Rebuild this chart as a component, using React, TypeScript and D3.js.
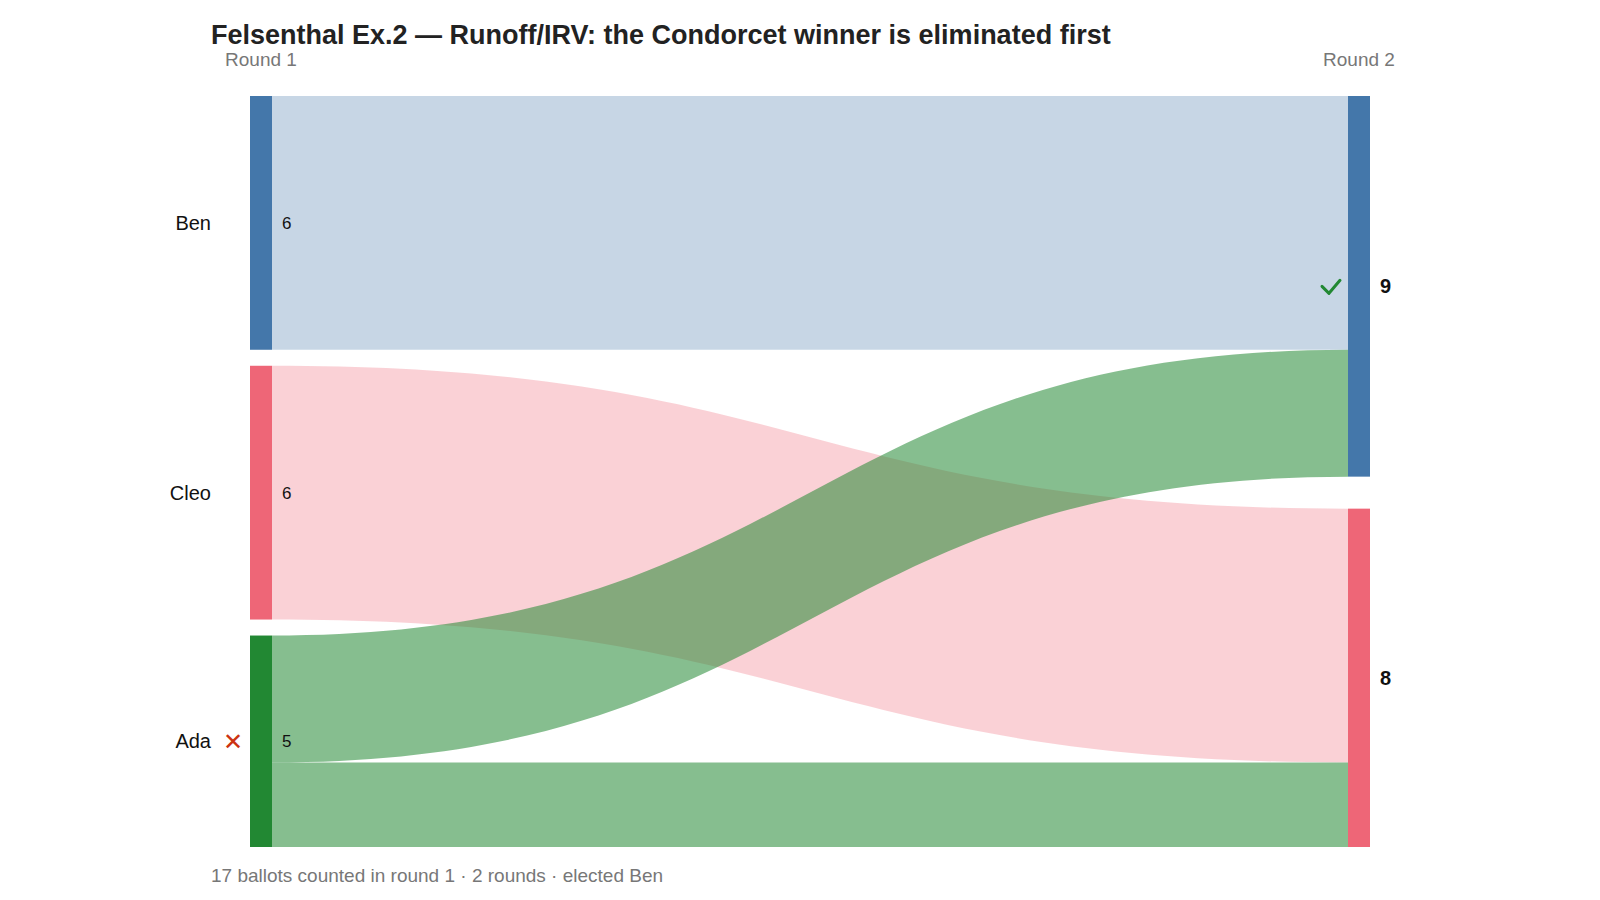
import React from "react";
import * as d3 from "d3";

// Round labels and candidates
const rounds = ["Round 1", "Round 2"];
const round1Candidates = ["Ben", "Cleo", "Ada"];
const round1Counts = [6, 6, 5];
const round2Candidates = ["Ben", "Cleo"];
const round2Counts = [9, 8];

// Ballot transfers from round 1 to round 2
const flowSources = ["Ben", "Cleo", "Ada", "Ada"];
const flowTargets = ["Ben", "Cleo", "Ben", "Cleo"];
const flowValues = [6, 6, 3, 2];

const eliminated = "Ada";
const elected = "Ben";

const colors: Record<string, string> = {
  Ben: "#4477AA",
  Cleo: "#EE6677",
  Ada: "#228833",
};

const FONT = "'Liberation Sans', Arial, Helvetica, sans-serif";

const width = 1600;
const height = 900;
const top = 96;
const bottom = 847;
const nodeWidth = 22;
const leftX = 250;
const rightX = 1348;
const nodePad = 16;

interface NodeBox {
  name: string;
  value: number;
  y0: number;
  y1: number;
}

function layoutColumn(
  names: string[],
  counts: number[],
  ky: d3.ScaleLinear<number, number>
): NodeBox[] {
  const used = d3.sum(counts.map((c) => ky(c)));
  const gap = names.length > 1 ? (bottom - top - used) / (names.length - 1) : 0;
  let y = top;
  return names.map((name, i) => {
    const h = ky(counts[i]);
    const box = { name, value: counts[i], y0: y, y1: y + h };
    y += h + gap;
    return box;
  });
}

function ribbon(x0: number, x1: number, s0: number, s1: number, t0: number, t1: number) {
  const xm = (x0 + x1) / 2;
  const p = d3.path();
  p.moveTo(x0, s0);
  p.bezierCurveTo(xm, s0, xm, t0, x1, t0);
  p.lineTo(x1, t1);
  p.bezierCurveTo(xm, t1, xm, s1, x0, s1);
  p.closePath();
  return p.toString();
}

const App: React.FC = () => {
  const total = d3.sum(round1Counts);
  const ky = d3
    .scaleLinear()
    .domain([0, total])
    .range([0, bottom - top - nodePad * (round1Counts.length - 1)]);

  const leftNodes = layoutColumn(round1Candidates, round1Counts, ky);
  const rightNodes = layoutColumn(round2Candidates, round2Counts, ky);

  // stack link offsets at each node
  const outOffset = new Map<string, number>(leftNodes.map((n) => [n.name, n.y0]));
  const inOffset = new Map<string, number>(rightNodes.map((n) => [n.name, n.y0]));
  const links = flowValues.map((v, i) => {
    const src = flowSources[i];
    const tgt = flowTargets[i];
    const h = ky(v);
    const s0 = outOffset.get(src)!;
    const t0 = inOffset.get(tgt)!;
    outOffset.set(src, s0 + h);
    inOffset.set(tgt, t0 + h);
    return {
      src,
      tgt,
      d: ribbon(leftX + nodeWidth, rightX, s0, s0 + h, t0, t0 + h),
      opacity: src === eliminated ? 0.55 : 0.3,
    };
  });
  // transfers of the eliminated candidate are drawn on top
  const ordered = [
    ...links.filter((l) => l.src !== eliminated),
    ...links.filter((l) => l.src === eliminated),
  ];

  return (
    <svg width={width} height={height} style={{ display: "block", margin: -8 }} fontFamily={FONT}>
      <rect width={width} height={height} fill="#fff" />
      <text x={211} y={44} fontSize={27} fontWeight="bold" fill="#222">
        Felsenthal Ex.2 — Runoff/IRV: the Condorcet winner is eliminated first
      </text>
      <text x={leftX + nodeWidth / 2} y={66} fontSize={19} fill="#777" textAnchor="middle">
        {rounds[0]}
      </text>
      <text x={rightX + nodeWidth / 2} y={66} fontSize={19} fill="#777" textAnchor="middle">
        {rounds[1]}
      </text>

      {ordered.map((l, i) => (
        <path key={i} d={l.d} fill={colors[l.src]} fillOpacity={l.opacity} />
      ))}

      {leftNodes.map((n) => {
        const cy = (n.y0 + n.y1) / 2;
        return (
          <g key={"l" + n.name}>
            <rect x={leftX} y={n.y0} width={nodeWidth} height={n.y1 - n.y0} fill={colors[n.name]} />
            <text x={211} y={cy} dy="0.35em" fontSize={20} textAnchor="end" fill="#111">
              {n.name}
            </text>
            <text x={leftX + nodeWidth + 10} y={cy} dy="0.35em" fontSize={17} fill="#111">
              {n.value}
            </text>
            {n.name === eliminated && (
              <text x={233} y={cy} dy="0.35em" fontSize={24} textAnchor="middle" fill="#CC3311">
                ✕
              </text>
            )}
          </g>
        );
      })}

      {rightNodes.map((n) => {
        const cy = (n.y0 + n.y1) / 2;
        return (
          <g key={"r" + n.name}>
            <rect x={rightX} y={n.y0} width={nodeWidth} height={n.y1 - n.y0} fill={colors[n.name]} />
            <text
              x={rightX + nodeWidth + 10}
              y={cy}
              dy="0.35em"
              fontSize={20}
              fontWeight="bold"
              fill="#111"
            >
              {n.value}
            </text>
            {n.name === elected && (
              <path
                transform={`translate(${rightX - 8}, ${cy})`}
                d="M-18,0 L-11,7 L0,-6"
                fill="none"
                stroke="#228833"
                strokeWidth={3}
                strokeLinecap="round"
                strokeLinejoin="round"
              />
            )}
          </g>
        );
      })}

      <text x={211} y={882} fontSize={19} fill="#777">
        {`${total} ballots counted in round 1 · ${rounds.length} rounds · elected ${elected}`}
      </text>
    </svg>
  );
};

export default App;
